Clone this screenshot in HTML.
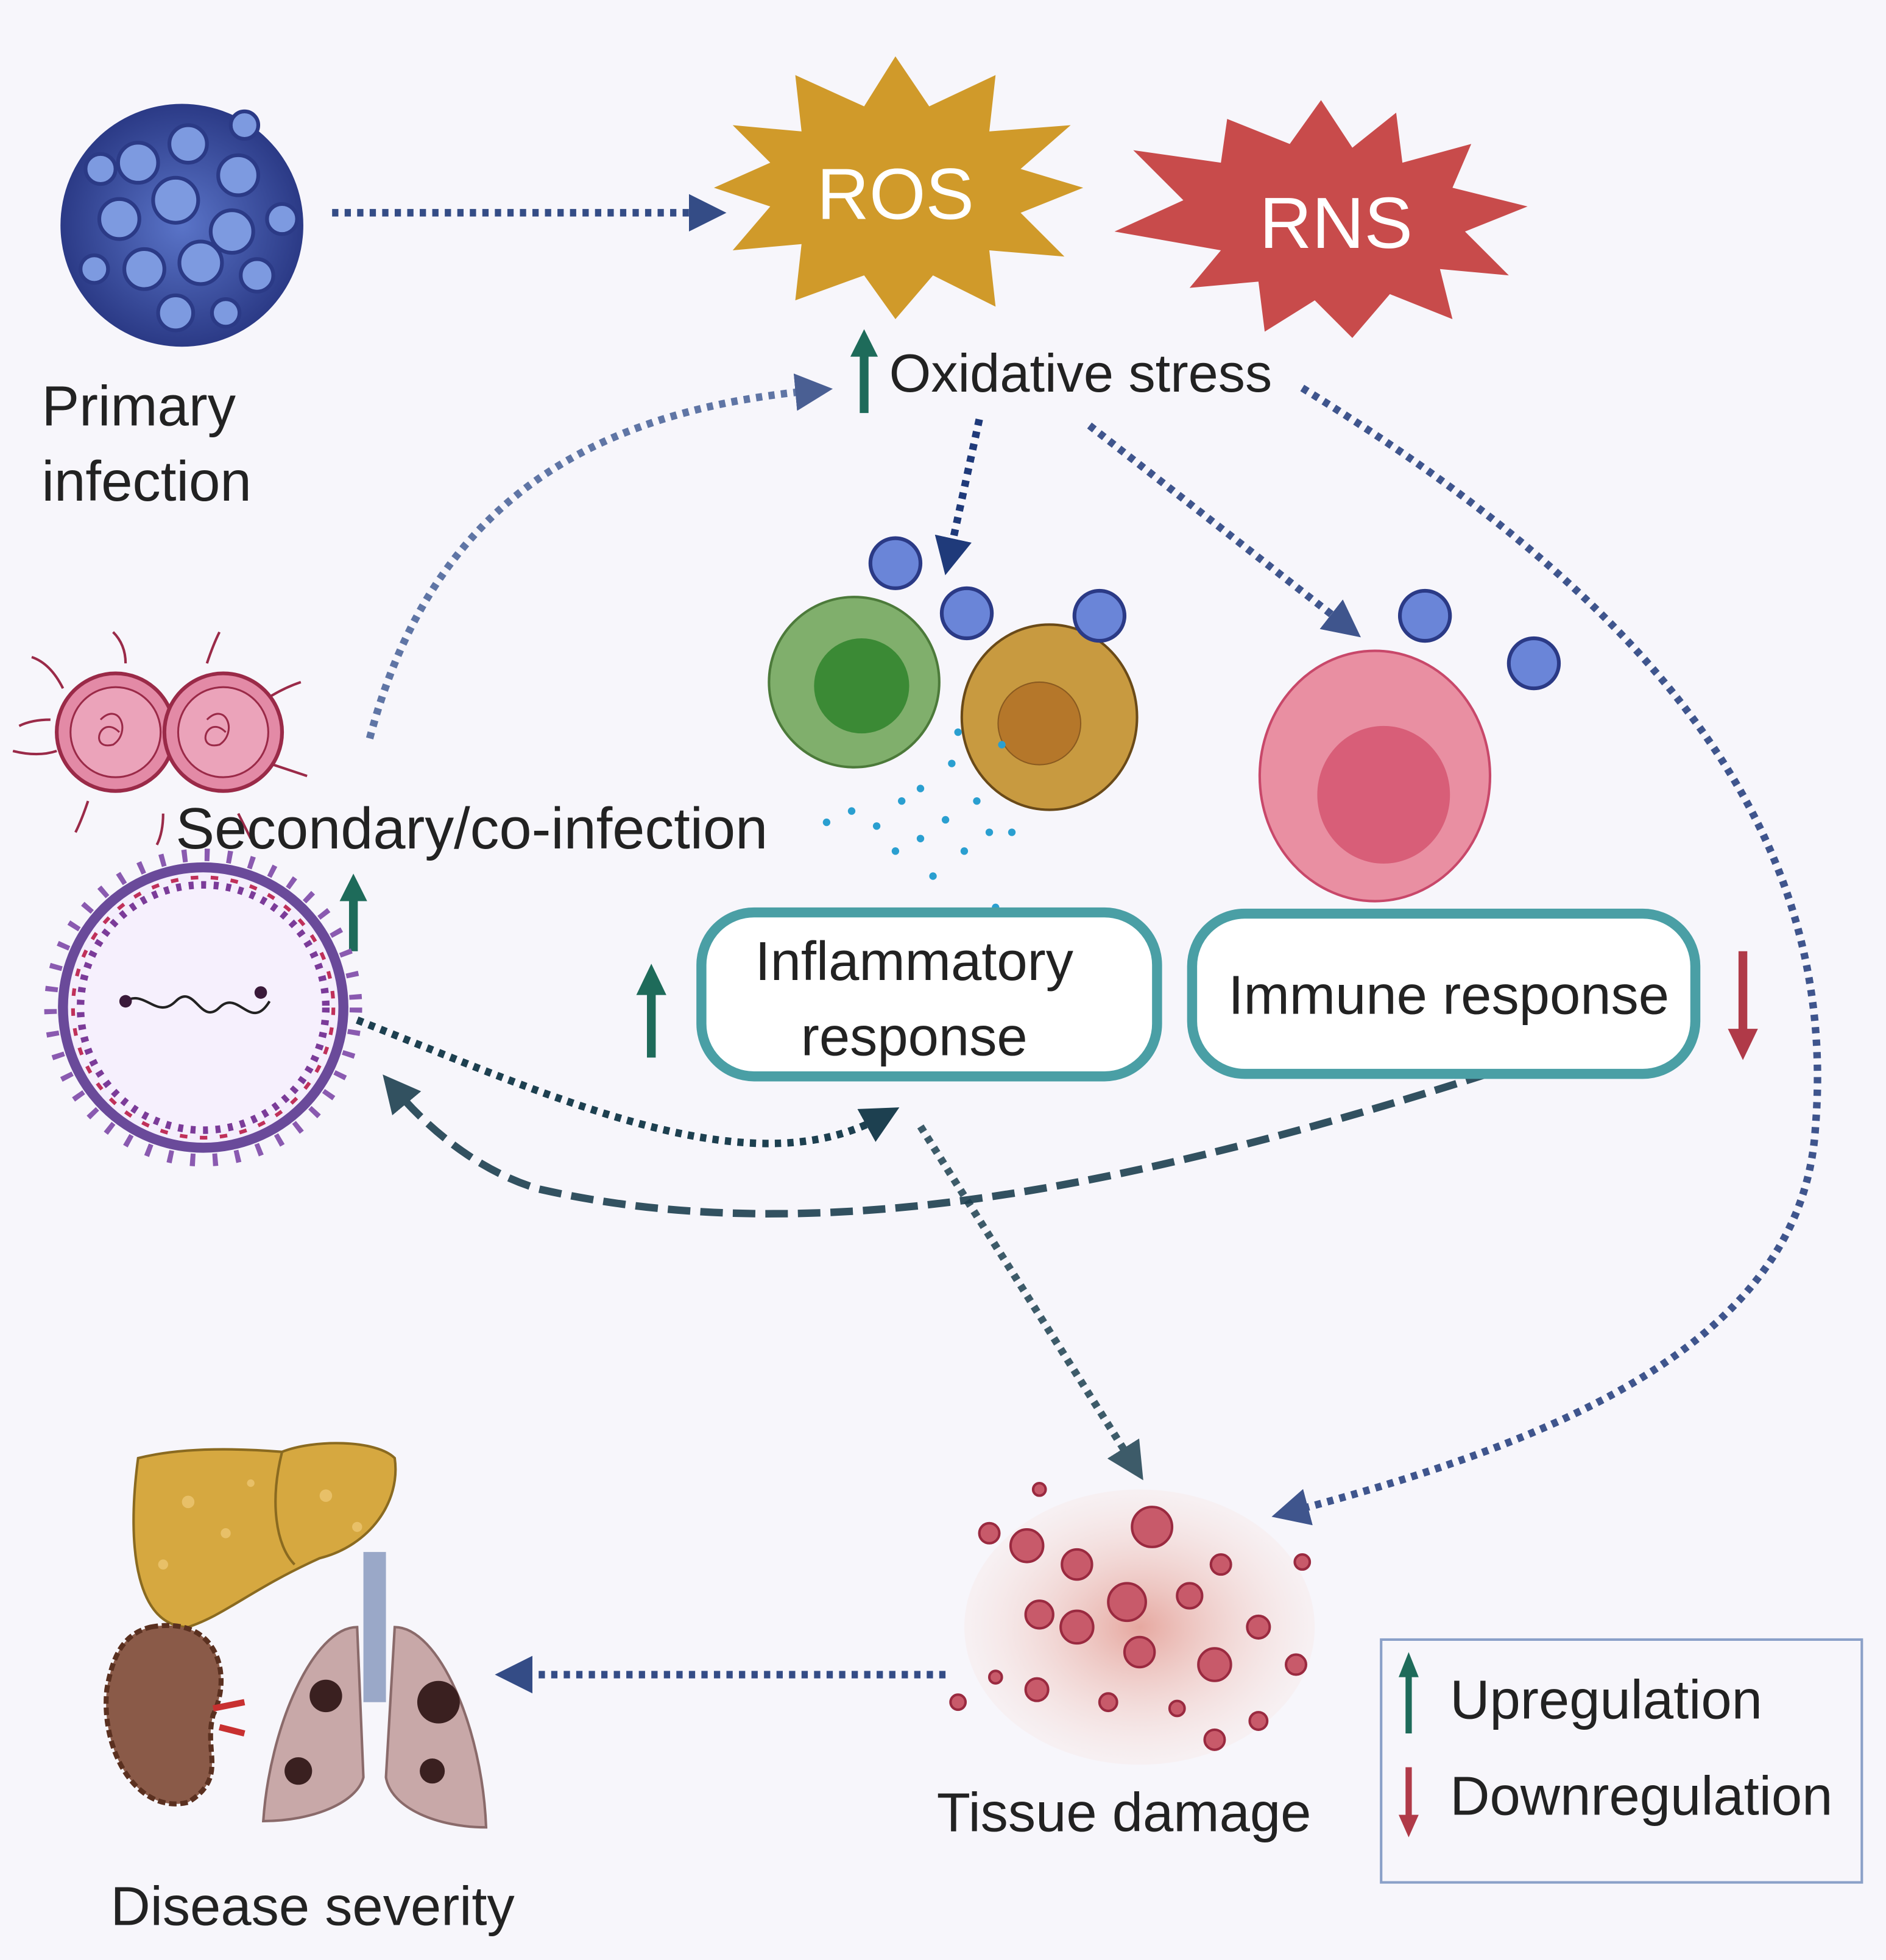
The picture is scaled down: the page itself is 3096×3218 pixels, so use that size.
<!DOCTYPE html>
<html><head><meta charset="utf-8"><style>
html,body{margin:0;padding:0;background:#f7f6fb;}
svg{display:block;}
text{font-family:"Liberation Sans",sans-serif;}
</style></head><body>
<svg width="3096" height="3218" viewBox="0 0 1506 1566" xmlns="http://www.w3.org/2000/svg">
<defs>
<marker id="ah" viewBox="0 0 10 10" refX="5" refY="5" markerWidth="5" markerHeight="5" orient="auto"><path d="M0,0L10,5L0,10z" fill="#1f3a7a"/></marker>
<marker id="ah2" viewBox="0 0 10 10" refX="5" refY="5" markerWidth="5" markerHeight="5" orient="auto"><path d="M0,0L10,5L0,10z" fill="#1d4050"/></marker>
<radialGradient id="vg"><stop offset="0" stop-color="#5a74c8"/><stop offset="1" stop-color="#2b3a86"/></radialGradient>
<radialGradient id="tg"><stop offset="0" stop-color="#e6a8a0"/><stop offset="1" stop-color="#f7e4e0" stop-opacity="0.3"/></radialGradient>
</defs>
<rect width="1506" height="1566" fill="#f7f6fb"/>

<g>
<circle cx="145" cy="180" r="97" fill="url(#vg)"/>
<g fill="#7d9ae0" stroke="#2b3a86" stroke-width="3">
<circle cx="110" cy="130" r="16"/><circle cx="150" cy="115" r="15"/><circle cx="190" cy="140" r="16"/>
<circle cx="95" cy="175" r="16"/><circle cx="140" cy="160" r="18"/><circle cx="185" cy="185" r="17"/>
<circle cx="115" cy="215" r="16"/><circle cx="160" cy="210" r="17"/><circle cx="205" cy="220" r="13"/>
<circle cx="80" cy="135" r="12"/><circle cx="140" cy="250" r="14"/><circle cx="225" cy="175" r="12"/>
<circle cx="75" cy="215" r="11"/><circle cx="180" cy="250" r="11"/><circle cx="195" cy="100" r="11"/>
</g></g>
<text x="33" y="340" font-size="45" fill="#222">Primary</text>
<text x="33" y="400" font-size="45" fill="#222">infection</text>

<g fill="none" stroke-width="6" stroke-dasharray="5,5">
<line x1="265" y1="170" x2="565" y2="170" stroke="#1f3a7a" marker-end="url(#ah)" opacity="0.9"/>
<path d="M295,590 C340,420 450,330 650,312" stroke="#3a5590" marker-end="url(#ah)" opacity="0.8"/>
<line x1="782" y1="335" x2="758" y2="445" stroke="#1f3a7a" marker-end="url(#ah)"/>
<line x1="870" y1="340" x2="1075" y2="500" stroke="#1f3a7a" marker-end="url(#ah)" opacity="0.85"/>
<path d="M1040,310 C1300,470 1470,650 1450,900 C1440,1070 1250,1150 1030,1208" stroke="#1f3a7a" marker-end="url(#ah)" opacity="0.85"/>
<path d="M285,815 C450,880 600,950 705,892" stroke="#1d4050" marker-end="url(#ah2)"/>
<path d="M1188,858 C900,950 650,1000 430,950 C380,935 340,900 315,870" stroke="#1d4050" stroke-dasharray="18,8" marker-end="url(#ah2)" opacity="0.9"/>
<line x1="735" y1="900" x2="905" y2="1170" stroke="#1d4050" marker-end="url(#ah2)" opacity="0.85"/>
<line x1="755" y1="1338" x2="410" y2="1338" stroke="#1f3a7a" marker-end="url(#ah)" opacity="0.9"/>
</g>

<polygon fill="#d09a2a" points="715,45 742,85 795,60 790,105 855,100 815,135 865,150 815,170 850,205 790,200 795,245 745,220 715,255 690,220 635,240 640,195 585,200 615,165 570,150 615,130 585,100 640,105 635,60 690,85"/>
<text x="715" y="175" font-size="58" fill="#fff" text-anchor="middle">ROS</text>
<polygon fill="#c84b4b" points="1055,80 1080,118 1115,90 1120,130 1175,115 1160,150 1220,165 1170,185 1205,220 1150,215 1160,255 1110,235 1080,270 1050,240 1010,265 1005,225 950,230 975,200 890,185 945,160 905,120 975,130 980,95 1030,115"/>
<text x="1067" y="198" font-size="58" fill="#fff" text-anchor="middle">RNS</text>

<g><line x1="690" y1="330" x2="690" y2="280" stroke="#1e6b5a" stroke-width="7"/><path d="M679,285L690,263L701,285z" fill="#1e6b5a"/></g>
<text x="710" y="313" font-size="43" fill="#222">Oxidative stress</text>

<g stroke="#9a2a48" stroke-width="3">
<g stroke-width="2" fill="none">
<path d="M50,550 q-10,-20 -25,-25 M45,600 q-15,5 -35,0 M70,640 q-5,15 -10,25 M100,530 q0,-15 -10,-25 M165,530 q5,-15 10,-25 M210,560 q15,-10 30,-15 M215,610 q15,5 30,10 M190,650 q5,10 10,20 M130,650 q0,15 -5,25 M40,575 q-15,0 -25,5"/>
</g>
<circle cx="92" cy="585" r="47" fill="#e38aa6"/><circle cx="178" cy="585" r="47" fill="#e38aa6"/>
<circle cx="92" cy="585" r="36" fill="#eba3ba" stroke-width="1.5"/><circle cx="178" cy="585" r="36" fill="#eba3ba" stroke-width="1.5"/>
<path d="M80,575 c15,-15 25,10 10,20 c-20,5 -10,-25 5,-10 M165,575 c15,-15 25,10 10,20 c-20,5 -10,-25 5,-10" fill="none" stroke-width="1.5"/>
</g>
<text x="140" y="678" font-size="46.5" fill="#222">Secondary/co-infection</text>
<g><line x1="282" y1="760" x2="282" y2="715" stroke="#1e6b5a" stroke-width="7"/><path d="M271,720L282,698L293,720z" fill="#1e6b5a"/></g>

<g>
<circle cx="162" cy="805" r="122" fill="none" stroke="#8a5ab0" stroke-width="10" stroke-dasharray="4,14"/>
<circle cx="162" cy="805" r="112" fill="#f4eefc" stroke="#6a4a9a" stroke-width="8"/>
<circle cx="162" cy="805" r="98" fill="#f6f0fd" stroke="#7b3b99" stroke-width="6" stroke-dasharray="4,6"/>
<circle cx="162" cy="805" r="104" fill="none" stroke="#c0305a" stroke-width="3" stroke-dasharray="6,10"/>
<path d="M100,800 c15,-10 25,15 40,0 c15,-15 20,20 35,5 c15,-15 25,20 40,-5" fill="none" stroke="#222" stroke-width="2"/>
<circle cx="100" cy="800" r="5" fill="#3a1a3a"/><circle cx="208" cy="793" r="5" fill="#3a1a3a"/>
</g>

<g>
<circle cx="682" cy="545" r="68" fill="#80af6c" stroke="#4c7a3a" stroke-width="2"/>
<circle cx="688" cy="548" r="38" fill="#3b8a35"/>
<ellipse cx="838" cy="573" rx="70" ry="74" fill="#c89a40" stroke="#6a4a18" stroke-width="2"/>
<circle cx="830" cy="578" r="33" fill="#b5772a" stroke="#8a5a20" stroke-width="1"/>
<g fill="#2a9fd0">
<circle cx="660" cy="657" r="3"/><circle cx="680" cy="648" r="3"/><circle cx="700" cy="660" r="3"/><circle cx="720" cy="640" r="3"/><circle cx="735" cy="670" r="3"/><circle cx="755" cy="655" r="3"/><circle cx="770" cy="680" r="3"/><circle cx="790" cy="665" r="3"/><circle cx="745" cy="700" r="3"/><circle cx="715" cy="680" r="3"/><circle cx="760" cy="610" r="3"/><circle cx="780" cy="640" r="3"/><circle cx="800" cy="595" r="3"/><circle cx="808" cy="665" r="3"/><circle cx="795" cy="725" r="3"/><circle cx="735" cy="630" r="3"/><circle cx="765" cy="585" r="3"/>
</g></g>
<g fill="#6a85d8" stroke="#2b3a86" stroke-width="3">
<circle cx="715" cy="450" r="20"/><circle cx="772" cy="490" r="20"/><circle cx="878" cy="492" r="20"/><circle cx="1138" cy="492" r="20"/><circle cx="1225" cy="530" r="20"/>
</g>
<g>
<ellipse cx="1098" cy="620" rx="92" ry="100" fill="#e98fa2" stroke="#c8486a" stroke-width="2"/>
<ellipse cx="1105" cy="635" rx="53" ry="55" fill="#d85e78"/>
</g>

<rect x="560" y="729" width="364" height="131" rx="42" fill="#fff" stroke="#4a9fa5" stroke-width="8"/>
<text x="730" y="783" font-size="44" fill="#222" text-anchor="middle">Inflammatory</text>
<text x="730" y="843" font-size="44" fill="#222" text-anchor="middle">response</text>
<rect x="952" y="730" width="402" height="128" rx="42" fill="#fff" stroke="#4a9fa5" stroke-width="8"/>
<text x="1157" y="810" font-size="44" fill="#222" text-anchor="middle">Immune response</text>
<g><line x1="520" y1="845" x2="520" y2="790" stroke="#1e6b5a" stroke-width="7"/><path d="M508,795L520,770L532,795z" fill="#1e6b5a"/></g>
<g><line x1="1392" y1="760" x2="1392" y2="825" stroke="#b03a48" stroke-width="7"/><path d="M1380,822L1392,847L1404,822z" fill="#b03a48"/></g>

<g>
<ellipse cx="910" cy="1300" rx="140" ry="110" fill="url(#tg)"/>
<g fill="#c85a6a" stroke="#9a2a40" stroke-width="2">
<circle cx="920" cy="1220" r="16"/><circle cx="860" cy="1250" r="12"/><circle cx="820" cy="1235" r="13"/><circle cx="900" cy="1280" r="15"/><circle cx="950" cy="1275" r="10"/><circle cx="830" cy="1290" r="11"/><circle cx="860" cy="1300" r="13"/><circle cx="910" cy="1320" r="12"/><circle cx="970" cy="1330" r="13"/><circle cx="1005" cy="1300" r="9"/><circle cx="975" cy="1250" r="8"/><circle cx="790" cy="1225" r="8"/><circle cx="1040" cy="1248" r="6"/><circle cx="795" cy="1340" r="5"/><circle cx="828" cy="1350" r="9"/><circle cx="885" cy="1360" r="7"/><circle cx="970" cy="1390" r="8"/><circle cx="1005" cy="1375" r="7"/><circle cx="1035" cy="1330" r="8"/><circle cx="765" cy="1360" r="6"/><circle cx="940" cy="1365" r="6"/><circle cx="830" cy="1190" r="5"/>
</g></g>
<text x="748" y="1463" font-size="44" fill="#222">Tissue damage</text>

<g>
<path d="M110,1165 C150,1155 200,1158 225,1160 C250,1150 300,1150 315,1165 C320,1200 295,1235 255,1245 C200,1270 180,1290 150,1300 C110,1300 100,1240 110,1165z" fill="#d6a840" stroke="#8a6a20" stroke-width="2"/>
<path d="M225,1160 C215,1200 220,1235 235,1250" fill="none" stroke="#8a6a20" stroke-width="2"/>
<g fill="#e8c068"><circle cx="150" cy="1200" r="5"/><circle cx="180" cy="1225" r="4"/><circle cx="260" cy="1195" r="5"/><circle cx="130" cy="1250" r="4"/><circle cx="285" cy="1220" r="4"/><circle cx="200" cy="1185" r="3"/></g>
<path d="M120,1300 C175,1290 185,1340 170,1370 C162,1400 182,1420 150,1440 C110,1450 80,1400 85,1350 C90,1320 100,1305 120,1300z" fill="#8a5a48" stroke="#5a3020" stroke-width="4" stroke-dasharray="6,3"/>
<path d="M170,1365 l25,-5 M175,1380 l20,5" stroke="#c83030" stroke-width="5"/>
<rect x="290" y="1240" width="18" height="120" fill="#9aa8c8"/>
<path d="M285,1300 C250,1300 215,1380 210,1455 C250,1455 285,1440 290,1420z" fill="#c8a8a8" stroke="#8a6a6a" stroke-width="2"/>
<path d="M315,1300 C350,1300 385,1380 388,1460 C350,1460 312,1445 308,1420z" fill="#c8a8a8" stroke="#8a6a6a" stroke-width="2"/>
<g fill="#3a2020"><circle cx="260" cy="1355" r="13"/><circle cx="238" cy="1415" r="11"/><circle cx="350" cy="1360" r="17"/><circle cx="345" cy="1415" r="10"/></g>
</g>
<text x="88" y="1538" font-size="44" fill="#222">Disease severity</text>

<g>
<rect x="1103" y="1310" width="384" height="194" fill="#f7f6fb" stroke="#8aa0c8" stroke-width="2"/>
<g><line x1="1125" y1="1385" x2="1125" y2="1335" stroke="#1e6b5a" stroke-width="5"/><path d="M1117,1340L1125,1320L1133,1340z" fill="#1e6b5a"/></g>
<text x="1158" y="1373" font-size="44" fill="#222">Upregulation</text>
<g><line x1="1125" y1="1412" x2="1125" y2="1455" stroke="#b03a48" stroke-width="5"/><path d="M1117,1450L1125,1468L1133,1450z" fill="#b03a48"/></g>
<text x="1158" y="1450" font-size="44" fill="#222">Downregulation</text>
</g>
</svg>
</body></html>
